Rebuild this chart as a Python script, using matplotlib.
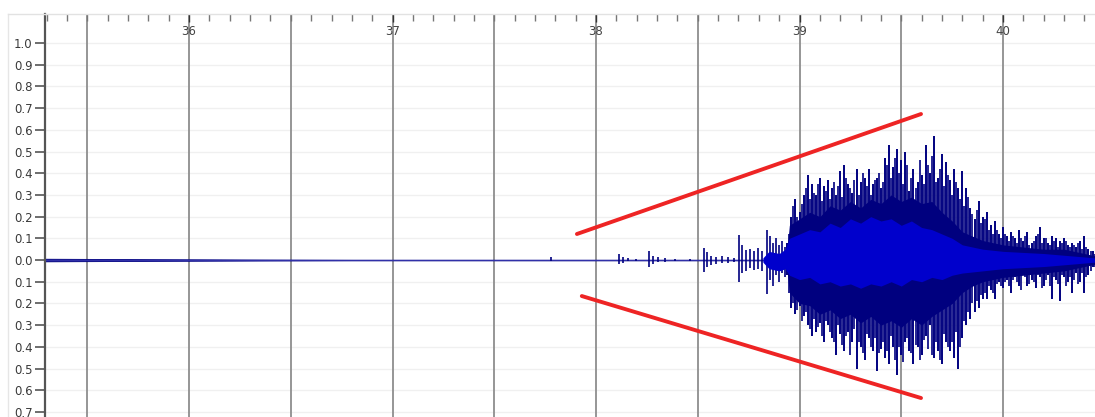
import numpy as np
import matplotlib.pyplot as plt
from matplotlib.ticker import MultipleLocator, FuncFormatter
from matplotlib.lines import Line2D

# --- waveform data (seconds, normalised amplitude) ---

# low-level hiss before the event
quiet_t = [35.29, 35.55, 35.8, 36.1, 36.4, 36.8, 38.94]
quiet_hi = [0.006, 0.005, 0.004, 0.003, 0.002, 0.001, 0.001]
quiet_lo = [-0.006, -0.005, -0.004, -0.003, -0.002, -0.001, -0.001]

# isolated onset bursts
burst_t = [37.779, 38.113, 38.133, 38.157, 38.196, 38.260, 38.280, 38.305,
           38.339, 38.388, 38.462, 38.531, 38.545, 38.565, 38.590, 38.619,
           38.649, 38.678, 38.703, 38.717, 38.737, 38.757, 38.776, 38.796,
           38.816, 38.840, 38.855, 38.870, 38.885, 38.899, 38.914, 38.929]
burst_hi = [0.012, 0.03, 0.012, 0.008, 0.006, 0.043, 0.02, 0.012,
            0.008, 0.006, 0.005, 0.055, 0.035, 0.02, 0.015, 0.02,
            0.012, 0.01, 0.115, 0.07, 0.045, 0.05, 0.04, 0.055,
            0.04, 0.14, 0.11, 0.08, 0.10, 0.07, 0.09, 0.06]
burst_lo = [-0.004, -0.02, -0.012, -0.006, -0.006, -0.03, -0.02, -0.01,
            -0.008, -0.005, -0.004, -0.054, -0.03, -0.025, -0.02, -0.012,
            -0.015, -0.01, -0.10, -0.06, -0.05, -0.035, -0.045, -0.04,
            -0.05, -0.155, -0.09, -0.12, -0.07, -0.10, -0.06, -0.08]

# main shaking: peak per 20 ms window starting at 38.94 s
spike_t0 = 38.94
spike_dt = 0.02
spike_hi = [0.08, 0.20, 0.28, 0.22, 0.30, 0.39, 0.35, 0.30, 0.38, 0.34,
            0.37, 0.33, 0.30, 0.41, 0.44, 0.35, 0.31, 0.42, 0.36, 0.38,
            0.42, 0.35, 0.38, 0.33, 0.47, 0.53, 0.43, 0.51, 0.46, 0.50,
            0.32, 0.42, 0.36, 0.39, 0.53, 0.40, 0.57, 0.38, 0.49, 0.45,
            0.37, 0.42, 0.33, 0.41, 0.33, 0.24, 0.19, 0.27, 0.20, 0.22,
            0.16, 0.18, 0.12, 0.15, 0.11, 0.13, 0.10, 0.14, 0.09, 0.13,
            0.08, 0.11, 0.15, 0.10, 0.08, 0.11, 0.10, 0.09, 0.10, 0.07,
            0.08, 0.06, 0.09, 0.11, 0.05, 0.04, 0.03]
spike_lo = [-0.07, -0.22, -0.25, -0.21, -0.26, -0.30, -0.35, -0.33, -0.29, -0.38,
            -0.30, -0.36, -0.44, -0.34, -0.42, -0.33, -0.38, -0.50, -0.40, -0.46,
            -0.36, -0.42, -0.51, -0.41, -0.45, -0.48, -0.40, -0.53, -0.44, -0.38,
            -0.42, -0.48, -0.40, -0.44, -0.35, -0.30, -0.45, -0.42, -0.48, -0.38,
            -0.42, -0.45, -0.50, -0.36, -0.30, -0.27, -0.24, -0.22, -0.18, -0.18,
            -0.14, -0.18, -0.10, -0.13, -0.09, -0.15, -0.08, -0.12, -0.07, -0.12,
            -0.09, -0.13, -0.08, -0.12, -0.07, -0.18, -0.09, -0.19, -0.08, -0.10,
            -0.15, -0.06, -0.10, -0.15, -0.07, -0.03, -0.03]

# secondary peaks between the 20 ms windows
mid_hi = [0.12, 0.25, 0.20, 0.26, 0.33, 0.28, 0.31, 0.35, 0.27, 0.32,
          0.28, 0.36, 0.34, 0.29, 0.38, 0.33, 0.37, 0.30, 0.40, 0.34,
          0.30, 0.37, 0.40, 0.36, 0.44, 0.38, 0.47, 0.40, 0.35, 0.44,
          0.38, 0.33, 0.46, 0.35, 0.44, 0.48, 0.36, 0.42, 0.34, 0.39,
          0.30, 0.36, 0.28, 0.25, 0.29, 0.21, 0.23, 0.17, 0.19, 0.14,
          0.12, 0.14, 0.10, 0.12, 0.09, 0.11, 0.08, 0.10, 0.11, 0.07,
          0.09, 0.12, 0.08, 0.10, 0.07, 0.09, 0.06, 0.08, 0.09, 0.06,
          0.07, 0.08, 0.05, 0.06, 0.04, 0.03]
mid_lo = [-0.15, -0.20, -0.23, -0.28, -0.24, -0.32, -0.27, -0.31, -0.35, -0.28,
          -0.33, -0.38, -0.30, -0.39, -0.35, -0.44, -0.32, -0.38, -0.43, -0.34,
          -0.40, -0.36, -0.43, -0.38, -0.42, -0.35, -0.46, -0.40, -0.47, -0.36,
          -0.43, -0.39, -0.46, -0.37, -0.41, -0.44, -0.38, -0.46, -0.34, -0.40,
          -0.38, -0.33, -0.40, -0.28, -0.24, -0.20, -0.19, -0.16, -0.15, -0.12,
          -0.15, -0.11, -0.12, -0.10, -0.12, -0.09, -0.10, -0.14, -0.08, -0.11,
          -0.10, -0.07, -0.13, -0.09, -0.12, -0.08, -0.11, -0.07, -0.12, -0.08,
          -0.09, -0.11, -0.06, -0.08, -0.05, -0.03]

# dense dark body of the record
body_t = [38.94, 38.95, 39.0, 39.05, 39.1, 39.15, 39.2, 39.25, 39.3, 39.35,
          39.4, 39.45, 39.5, 39.55, 39.6, 39.65, 39.7, 39.75, 39.8, 39.85,
          39.9, 40.0, 40.1, 40.2, 40.3, 40.45]
body_hi = [0.06, 0.16, 0.19, 0.22, 0.20, 0.25, 0.23, 0.27, 0.24, 0.28,
           0.26, 0.30, 0.27, 0.29, 0.26, 0.27, 0.22, 0.18, 0.13, 0.11,
           0.09, 0.07, 0.06, 0.05, 0.05, 0.02]
body_lo = [-0.06, -0.15, -0.20, -0.21, -0.25, -0.23, -0.27, -0.25, -0.29, -0.26,
           -0.30, -0.28, -0.31, -0.27, -0.30, -0.26, -0.23, -0.20, -0.15, -0.12,
           -0.10, -0.08, -0.07, -0.06, -0.05, -0.02]

# bright inner core
core_t = [38.82, 38.85, 38.9, 38.93, 38.95, 39.0, 39.05, 39.1, 39.15, 39.2,
          39.25, 39.3, 39.35, 39.4, 39.45, 39.5, 39.55, 39.6, 39.65, 39.7,
          39.75, 39.8, 39.9, 40.0, 40.2, 40.45]
core_hi = [0.01, 0.04, 0.03, 0.05, 0.10, 0.12, 0.14, 0.13, 0.17, 0.15,
           0.19, 0.17, 0.20, 0.18, 0.19, 0.16, 0.18, 0.15, 0.14, 0.12,
           0.10, 0.07, 0.05, 0.04, 0.03, 0.01]
core_lo = [-0.01, -0.04, -0.05, -0.04, -0.07, -0.09, -0.08, -0.11, -0.10, -0.12,
           -0.11, -0.13, -0.11, -0.12, -0.10, -0.12, -0.09, -0.10, -0.08, -0.09,
           -0.07, -0.06, -0.05, -0.04, -0.03, -0.01]

# growth envelope drawn over the record
upper_t = [37.906, 39.597]
upper_v = [0.12, 0.673]
lower_t = [37.93, 39.597]
lower_v = [-0.166, -0.636]

NAVY = '#00007f'
CORE = '#0000cc'

fig = plt.figure(figsize=(10.95, 4.17), dpi=100)
ax = fig.add_axes([45 / 1095, 0.0, 1 - 45 / 1095, 1 - 14 / 417])

# grid
for v in np.arange(-0.7, 1.01, 0.1):
    ax.axhline(v, color='#f0f0f0', lw=1.0, zorder=0)
for t in np.arange(35.5, 40.01, 0.5):
    ax.axvline(t, color='#8e8e8e', lw=1.3, zorder=1)

# waveform
ax.fill_between(quiet_t, quiet_lo, quiet_hi, color=NAVY, lw=0.6, zorder=2)
ax.plot([35.292, 38.95], [0, 0], color='#3030a8', lw=1.0, zorder=2)
ax.vlines(burst_t, burst_lo, burst_hi, color=NAVY, lw=1.2, zorder=3)
ax.fill_between(body_t, body_lo, body_hi, color=NAVY, lw=0, zorder=3)
spike_t = spike_t0 + spike_dt * np.arange(len(spike_hi))
mid_t = spike_t0 + spike_dt / 2 + spike_dt * np.arange(len(mid_hi))
ax.vlines(spike_t, spike_lo, spike_hi, color=NAVY, lw=1.4, zorder=3)
ax.vlines(mid_t, mid_lo, mid_hi, color=NAVY, lw=1.2, zorder=3)
ax.fill_between(core_t, core_lo, core_hi, color=CORE, lw=0, zorder=4)

# envelope lines
ax.plot(upper_t, upper_v, color='#ee2424', lw=2.8, solid_capstyle='round', zorder=5)
ax.plot(lower_t, lower_v, color='#ee2424', lw=2.8, solid_capstyle='round', zorder=5)

# axes styling
for s in ['right', 'bottom']:
    ax.spines[s].set_visible(False)
ax.spines['top'].set_color('#e2e2e2')
ax.spines['top'].set_linewidth(1.0)
ax.spines['left'].set_color('#555555')
ax.spines['left'].set_linewidth(1.6)

ax.xaxis.set_ticks_position('top')
ax.xaxis.set_major_locator(MultipleLocator(1))
ax.xaxis.set_minor_locator(MultipleLocator(0.1))
ax.tick_params(axis='x', which='both', direction='in', color='#777777', width=1.0,
               labelsize=8.5, labelcolor='#444444', pad=-17)
ax.tick_params(axis='x', which='major', length=6, color='#333333')
ax.tick_params(axis='x', which='minor', length=5)

ax.set_yticks(np.round(np.arange(-0.7, 1.01, 0.1), 1))
ax.yaxis.set_major_formatter(FuncFormatter(lambda v, _: f"{abs(v):.1f}"))
ax.tick_params(axis='y', direction='out', length=7, width=1.2, color='#555555',
               labelsize=8.5, labelcolor='#3a3a3a', pad=2)

ax.set_xlim(35.292, 40.452)
ax.set_ylim(-0.7235, 1.134)

# outer frame
fig.add_artist(Line2D([8 / 1095, 8 / 1095], [0, 1 - 14 / 417], color='#e6e6e6', lw=1.0))
fig.add_artist(Line2D([8 / 1095, 45 / 1095], [1 - 14 / 417, 1 - 14 / 417], color='#e2e2e2', lw=1.0))

fig.savefig('out.png', dpi=100, facecolor='white')
